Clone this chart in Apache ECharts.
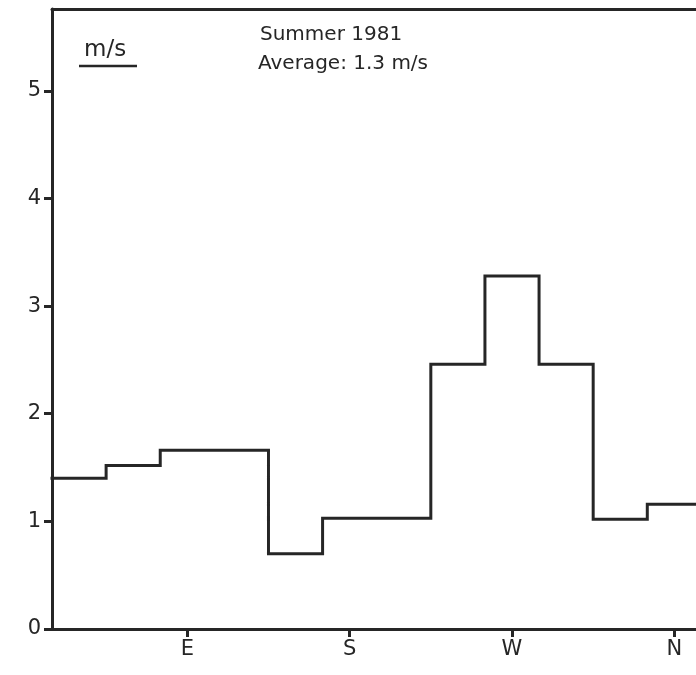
<!DOCTYPE html>
<html>
<head>
<meta charset="utf-8">
<script src="https://cdn.jsdelivr.net/npm/echarts@6/dist/echarts.min.js"></script>
<style>
html,body{margin:0;padding:0;background:#fff;}
#chart{width:696px;height:675px;}
</style>
</head>
<body>
<div id="chart"></div>
<script>
// Wind direction bin centres (degrees, 30° bins) and mean wind speed (m/s)
var directions = [30, 60, 90, 120, 150, 180, 210, 240, 270, 300, 330, 360];
var speeds = [1.40, 1.52, 1.66, 1.66, 0.70, 1.03, 1.03, 2.46, 3.28, 2.46, 1.02, 1.16];
var binWidth = 30;
// Compass tick labels
var compassTicks = [90, 180, 270, 360];
var compassLabels = ['E', 'S', 'W', 'N'];
var yTicks = [0, 1, 2, 3, 4, 5];

var stepData = [];
for (var i = 0; i < directions.length; i++) {
  stepData.push([directions[i] - binWidth / 2, speeds[i]]);
}
stepData.push([directions[directions.length - 1] + binWidth / 2, speeds[speeds.length - 1]]);

var ink = '#262626';
var font = 'DejaVu Sans';

var chart = echarts.init(document.getElementById('chart'), null, {renderer: 'canvas'});
chart.setOption({
  animation: false,
  backgroundColor: '#ffffff',
  grid: {left: 52, top: 9, right: 0, bottom: 46, show: false},
  xAxis: [{
    type: 'value',
    min: 15, max: 372,
    axisLine: {show: true, lineStyle: {color: ink, width: 3}},
    axisTick: {show: true, length: 8, lineStyle: {color: ink, width: 3}, customValues: compassTicks},
    axisLabel: {
      show: true, customValues: compassTicks, margin: 10,
      color: '#262626', fontSize: 21, fontFamily: font,
      formatter: function (v) { var k = compassTicks.indexOf(v); return k >= 0 ? compassLabels[k] : ''; }
    },
    splitLine: {show: false}
  }, {
    type: 'value',
    position: 'top',
    min: 15, max: 372,
    axisLine: {show: true, onZero: false, lineStyle: {color: ink, width: 3}},
    axisTick: {show: false},
    axisLabel: {show: false},
    splitLine: {show: false}
  }],
  yAxis: {
    type: 'value',
    min: 0, max: 5.76,
    axisLine: {show: true, lineStyle: {color: ink, width: 3}},
    axisTick: {show: true, length: 8, lineStyle: {color: ink, width: 3}, customValues: yTicks},
    axisLabel: {show: true, customValues: yTicks, margin: 11, color: '#262626', fontSize: 21, fontFamily: font},
    splitLine: {show: false}
  },
  series: [{
    type: 'line',
    step: 'end',
    data: stepData,
    showSymbol: false,
    symbol: 'none',
    clip: true,
    lineStyle: {color: ink, width: 3, join: 'miter', cap: 'square'},
    z: 5
  }],
  graphic: [
    {type: 'text', left: 84, top: 39, style: {text: 'm/s', fontSize: 23, fontFamily: font, fill: '#262626'}},
    {type: 'line', shape: {x1: 79, y1: 66, x2: 137, y2: 66}, style: {stroke: ink, lineWidth: 2.5}},
    {type: 'text', left: 260, top: 25, style: {text: 'Summer 1981', fontSize: 20, fontFamily: font, fill: '#262626'}},
    {type: 'text', left: 258, top: 54, style: {text: 'Average: 1.3 m/s', fontSize: 20, fontFamily: font, fill: '#262626'}}
  ]
});
</script>
</body>
</html>
